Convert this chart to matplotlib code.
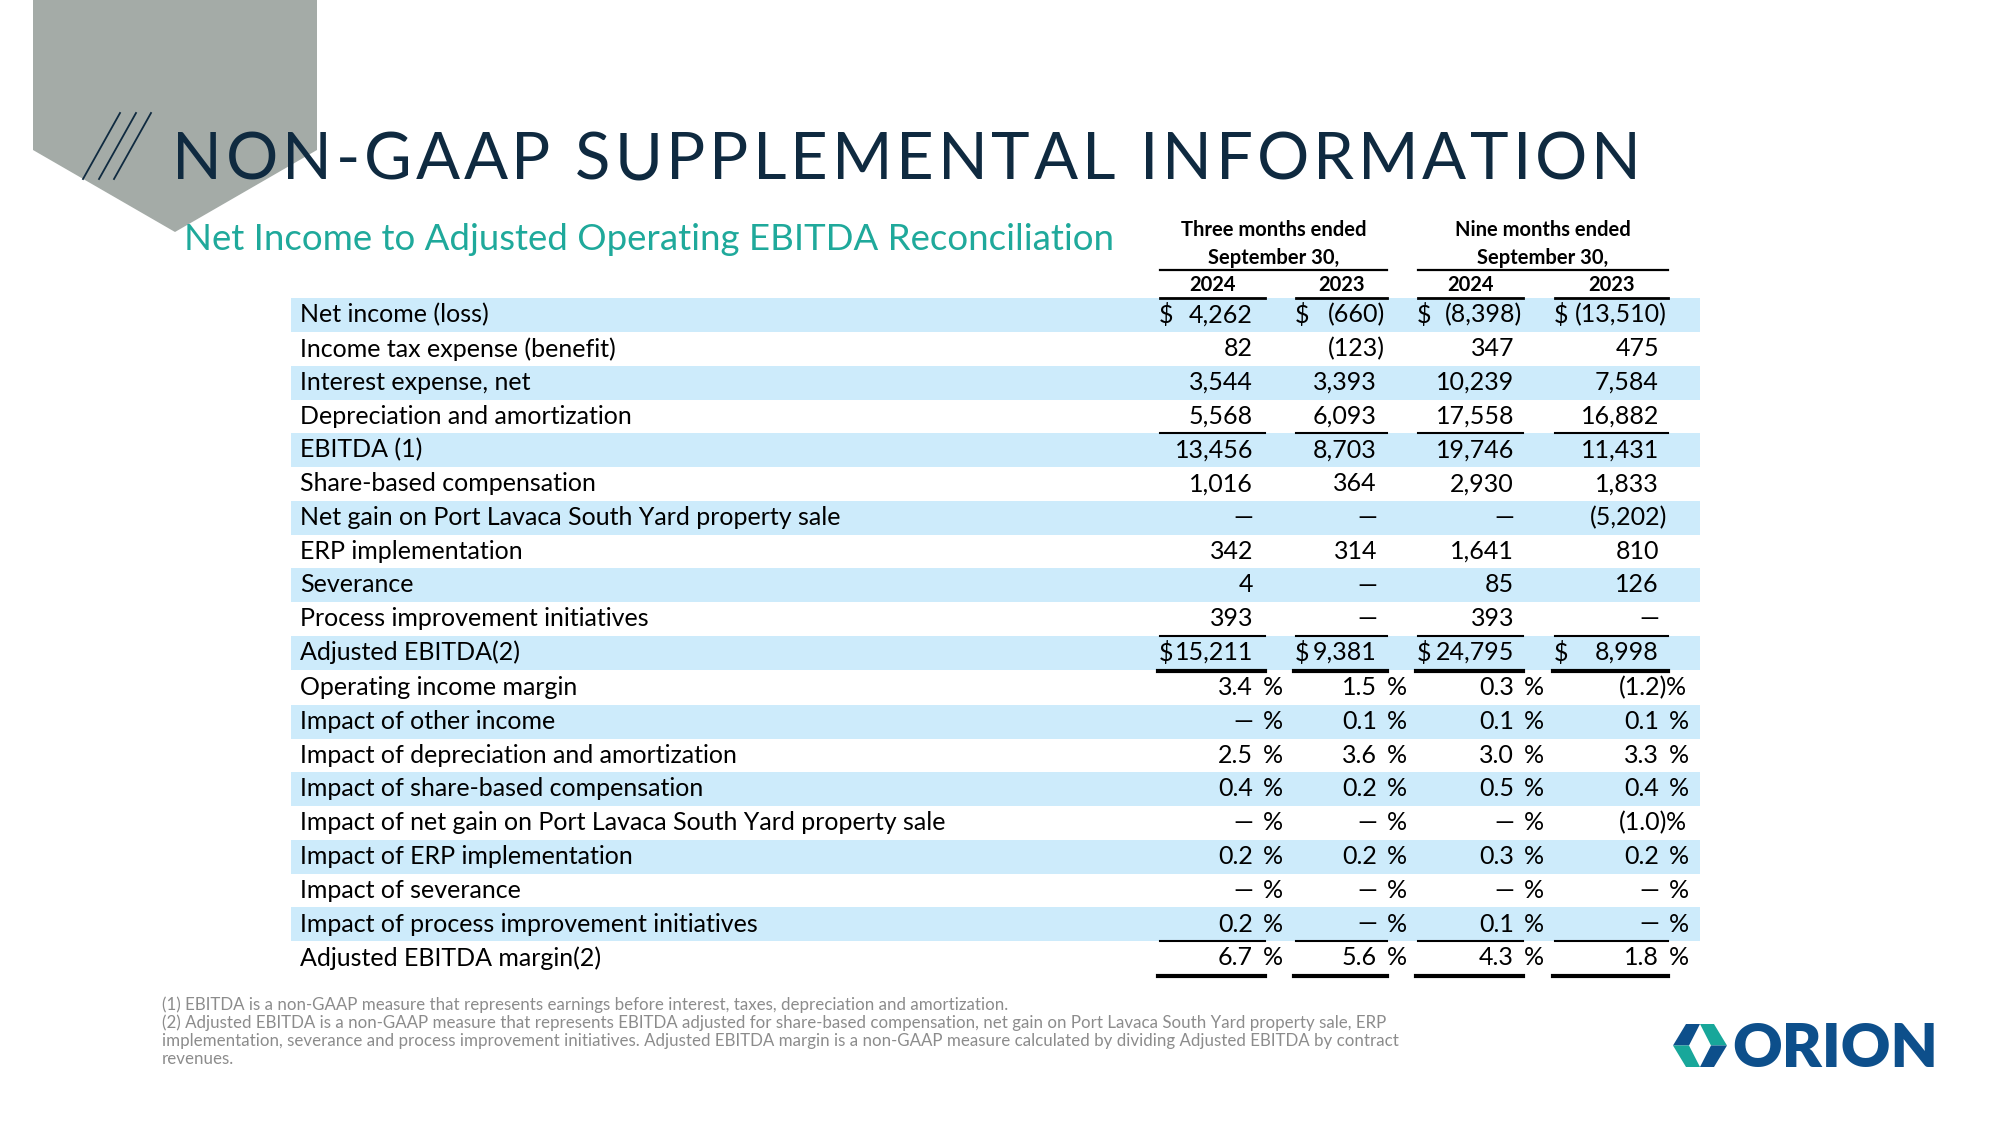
import matplotlib
matplotlib.use("Agg")
import matplotlib.pyplot as plt
from matplotlib.patches import Polygon, Rectangle
from matplotlib.font_manager import FontProperties

# table data
row_labels = [
    "Net income (loss)",
    "Income tax expense (benefit)",
    "Interest expense, net",
    "Depreciation and amortization",
    "EBITDA (1)",
    "Share-based compensation",
    "Net gain on Port Lavaca South Yard property sale",
    "ERP implementation",
    "Severance",
    "Process improvement initiatives",
    "Adjusted EBITDA(2)",
    "Operating income margin",
    "Impact of other income",
    "Impact of depreciation and amortization",
    "Impact of share-based compensation",
    "Impact of net gain on Port Lavaca South Yard property sale",
    "Impact of ERP implementation",
    "Impact of severance",
    "Impact of process improvement initiatives",
    "Adjusted EBITDA margin(2)",
]
three_2024 = ["4,262", "82", "3,544", "5,568", "13,456", "1,016", "—", "342", "4", "393", "15,211",
              "3.4", "—", "2.5", "0.4", "—", "0.2", "—", "0.2", "6.7"]
three_2023 = ["(660)", "(123)", "3,393", "6,093", "8,703", "364", "—", "314", "—", "—", "9,381",
              "1.5", "0.1", "3.6", "0.2", "—", "0.2", "—", "—", "5.6"]
nine_2024 = ["(8,398)", "347", "10,239", "17,558", "19,746", "2,930", "—", "1,641", "85", "393", "24,795",
             "0.3", "0.1", "3.0", "0.5", "—", "0.3", "—", "0.1", "4.3"]
nine_2023 = ["(13,510)", "475", "7,584", "16,882", "11,431", "1,833", "(5,202)", "810", "126", "—", "8,998",
             "(1.2)", "0.1", "3.3", "0.4", "(1.0)", "0.2", "—", "—", "1.8"]
columns = [three_2024, three_2023, nine_2024, nine_2023]
years = ["2024", "2023", "2024", "2023"]
groups = ["Three months ended\nSeptember 30,", "Nine months ended\nSeptember 30,"]
dollar_rows = [0, 10]
first_pct_row = 11

title = "NON-GAAP SUPPLEMENTAL INFORMATION"
subtitle = "Net Income to Adjusted Operating EBITDA Reconciliation"
notes = [
    "(1) EBITDA is a non-GAAP measure that represents earnings before interest, taxes, depreciation and amortization.",
    "(2) Adjusted EBITDA is a non-GAAP measure that represents EBITDA adjusted for share-based compensation, net gain on Port Lavaca South Yard property sale, ERP",
    "implementation, severance and process improvement initiatives. Adjusted EBITDA margin is a non-GAAP measure calculated by dividing Adjusted EBITDA by contract",
    "revenues.",
]

NAVY = "#0f2a40"
TEAL = "#1fa99b"
BAND = "#cdebfb"
FONT = "Lato"

fig = plt.figure(figsize=(19.99, 11.25), dpi=100)
ax = fig.add_axes([0, 0, 1, 1])
ax.set_xlim(0, 1999)
ax.set_ylim(1125, 0)
ax.axis("off")
renderer = fig.canvas.get_renderer()

# decoration
ax.add_patch(Polygon([(33, 0), (317, 0), (317, 150), (175, 232), (33, 150)],
                     closed=True, color="#a4aba7", lw=0, zorder=1))
for dx in (0, 16, 31):
    ax.plot([83 + dx, 120 + dx], [179, 113], color=NAVY, lw=1.3, zorder=3)

# title with letter spacing
title_fp = FontProperties(family=FONT, weight="normal", size=47)


def text_w(s):
    return renderer.get_text_width_height_descent(s, title_fp, ismath=False)[0]


x_start, x_end = 172, 1641
base_w = text_w("N")
natural = text_w(title)
track = (x_end - x_start - natural) / (len(title) - 1)
for k, ch in enumerate(title):
    if ch == " ":
        continue
    xk = x_start + (text_w(title[:k] + "N") - base_w if k else 0) + k * track
    ax.text(xk, 179, ch, fontproperties=title_fp, color=NAVY, va="baseline", ha="left", zorder=4)

ax.text(184, 240, subtitle, fontsize=26.4, family=FONT, color=TEAL, va="center", ha="left")

# layout
col_left = [1160, 1296, 1418, 1555]
col_right = [1265, 1387, 1523, 1668]
num_right = [1253, 1377, 1514, 1659]
paren_w = 8
pct_gap = 30


def row_y(i):
    return 315 + 33.75 * i + (1.5 if i >= first_pct_row else 0)


# bands
for i in range(len(row_labels)):
    if i % 2 == 0:
        ax.add_patch(Rectangle((291, row_y(i) - 17), 1700 - 291, 34, color=BAND, lw=0, zorder=1))

# headers
for g, txt in enumerate(groups):
    x0, x1 = col_left[2 * g], col_right[2 * g + 1]
    for j, line in enumerate(txt.split("\n")):
        ax.text((x0 + x1) / 2, 230 + 28 * j, line, fontsize=14.5, family=FONT, fontweight="bold",
                ha="center", va="center")
    ax.plot([x0, x1], [270, 270], color="black", lw=1.6)
for c, yr in enumerate(years):
    ax.text((col_left[c] + col_right[c]) / 2, 285, yr, fontsize=14.5, family=FONT,
            fontweight="bold", ha="center", va="center")
    ax.plot([col_left[c], col_right[c]], [298, 298], color="black", lw=2)

# rows
txt_kw = dict(fontsize=18, family=FONT, va="center", color="black", zorder=3)
for i, lab in enumerate(row_labels):
    y = row_y(i)
    ax.text(300, y, lab, ha="left", **txt_kw)
    for c, col in enumerate(columns):
        v = col[i]
        r = num_right[c] + (paren_w if v.startswith("(") else 0)
        ax.text(r, y, v, ha="right", **txt_kw)
        if i in dollar_rows:
            ax.text(col_left[c] - 1, y, "$", ha="left", **txt_kw)
        if i >= first_pct_row:
            ax.text(num_right[c] + pct_gap - (3 if v.startswith("(") else 0), y, "%",
                    ha="right", **txt_kw)

# rule lines under subtotal rows
thin = [(3, 1.5), (9, 1.5), (18, 1.5)]
thick = [(10, 3), (19, 3)]
for i, lw in thin:
    yl = row_y(i) + 17
    for c in range(4):
        ax.plot([col_left[c], col_right[c]], [yl, yl], color="black", lw=lw, zorder=4)
for i, lw in thick:
    yl = row_y(i) + 18.5
    for c in range(4):
        ax.plot([col_left[c] - 2, col_right[c]], [yl, yl], color="black", lw=lw, zorder=4)

# footnotes
for k, line in enumerate(notes):
    ax.text(162, 1005 + 18 * k, line, fontsize=12.2, family=FONT, color="#8c8c8c",
            va="center", ha="left")

# logo
DARK = "#0d4f8b"
LTEAL = "#18a79a"
my, top, bot = 1045.5, 1024, 1067
ax.add_patch(Polygon([(1673, my), (1686, top), (1700, top), (1689, my)], color=DARK, lw=0))
ax.add_patch(Polygon([(1673, my), (1689, my), (1700, bot), (1686, bot)], color=LTEAL, lw=0))
ax.add_patch(Polygon([(1727, my), (1714, top), (1700, top), (1711, my)], color=LTEAL, lw=0))
ax.add_patch(Polygon([(1727, my), (1711, my), (1700, bot), (1714, bot)], color=DARK, lw=0))
ax.text(1732, bot, "ORION", fontsize=44, family=FONT, fontweight="heavy", color=DARK,
        ha="left", va="baseline")

fig.savefig("out.png", dpi=100)
